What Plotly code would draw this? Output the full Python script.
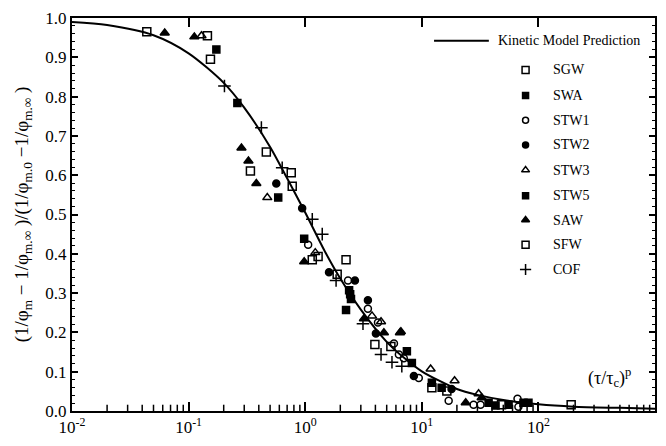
import plotly.graph_objects as go

# Kinetic model prediction curve
curve_x = [0.01, 0.02, 0.05, 0.1, 0.2, 0.3, 0.5, 0.7, 1, 1.5, 2, 3, 5, 7, 10, 20, 30, 50, 100, 200, 500, 1000]
curve_y = [0.99, 0.982, 0.956, 0.91, 0.835, 0.772, 0.672, 0.592, 0.505, 0.402, 0.337, 0.258, 0.176, 0.136, 0.101,
           0.056, 0.041, 0.028, 0.017, 0.011, 0.008, 0.006]

# Experimental series
sgw_x = [0.0438, 0.154, 0.464, 0.774, 1.29, 2.24, 3.96, 12.2, 48.3, 191]
sgw_y = [0.965, 0.895, 0.659, 0.572, 0.393, 0.385, 0.169, 0.059, 0.016, 0.016]

swa_x = [0.173, 0.98, 2.38, 2.43, 7.45, 12.2, 37.4, 74.5]
swa_y = [0.920, 0.438, 0.307, 0.297, 0.152, 0.072, 0.021, 0.021]

stw1_x = [1.06, 2.33, 3.45, 4.21, 5.77, 6.36, 7.01, 9.42, 17.0, 27.8, 31.9, 66.2, 67.4]
stw1_y = [0.423, 0.332, 0.260, 0.225, 0.172, 0.144, 0.134, 0.084, 0.026, 0.016, 0.016, 0.031, 0.011]

stw2_x = [0.565, 0.942, 1.60, 2.67, 3.45, 4.04, 8.55, 18.0]
stw2_y = [0.579, 0.516, 0.353, 0.332, 0.282, 0.197, 0.089, 0.056]

stw3_x = [0.129, 0.473, 1.22, 3.74, 4.47, 11.9, 19.1, 30.7]
stw3_y = [0.955, 0.543, 0.403, 0.242, 0.227, 0.107, 0.077, 0.044]

stw5_x = [0.262, 0.587, 2.47, 2.24, 8.22, 14.8, 42.9, 55.5, 82.2]
stw5_y = [0.784, 0.543, 0.285, 0.257, 0.122, 0.059, 0.014, 0.016, 0.021]

saw_x = [0.0624, 0.112, 0.284, 0.326, 0.381, 0.98, 3.19, 4.73, 6.49, 6.62, 23.8, 32.6]
saw_y = [0.962, 0.952, 0.669, 0.636, 0.579, 0.380, 0.235, 0.199, 0.199, 0.202, 0.021, 0.034]

sfw_x = [0.145, 0.339, 0.759, 1.15, 1.88, 5.43, 16.4]
sfw_y = [0.955, 0.611, 0.606, 0.385, 0.348, 0.164, 0.051]

cof_x = [0.203, 0.421, 0.635, 1.15, 1.40, 1.84, 3.13, 4.47, 5.55, 6.74]
cof_y = [0.827, 0.721, 0.619, 0.488, 0.450, 0.332, 0.222, 0.144, 0.124, 0.114]

series_names = ["SGW", "SWA", "STW1", "STW2", "STW3", "STW5", "SAW", "SFW", "COF"]
series_x = [sgw_x, swa_x, stw1_x, stw2_x, stw3_x, stw5_x, saw_x, sfw_x, cof_x]
series_y = [sgw_y, swa_y, stw1_y, stw2_y, stw3_y, stw5_y, saw_y, sfw_y, cof_y]
symbols = ["square-open", "square", "circle-open", "circle", "triangle-up-open",
           "square", "triangle-up", "square-open", "cross-thin"]
sizes = [8, 7, 7, 7, 8, 7, 8, 8, 9]

xtick_vals = [0.01, 0.1, 1, 10, 100, 1000]
xtick_text = ["10<sup>-2</sup>", "10<sup>-1</sup>", "10<sup>0</sup>", "10<sup>1</sup>",
              "10<sup>2</sup>", "10<sup>3</sup>"]
xminor_vals = [m * d for d in xtick_vals[:-1] for m in range(2, 10)]

FONT = "Liberation Serif"
fig = go.Figure()

fig.add_trace(go.Scatter(x=curve_x, y=curve_y, mode="lines",
                         line=dict(color="black", width=2, shape="spline", smoothing=0.8),
                         showlegend=False, hoverinfo="skip"))

for name, xs, ys, sym, sz in zip(series_names, series_x, series_y, symbols, sizes):
    fig.add_trace(go.Scatter(x=xs, y=ys, mode="markers", name=name, showlegend=False,
                             marker=dict(symbol=sym, size=sz, color="black",
                                         line=dict(color="black", width=1.5))))

# Manual legend
leg_y = [0.868, 0.803, 0.740, 0.677, 0.613, 0.548, 0.486, 0.423, 0.360]
leg_x = 0.778
for name, sym, sz, yy in zip(series_names, symbols, sizes, leg_y):
    fig.add_trace(go.Scatter(x=[leg_x], y=[yy], xaxis="x2", yaxis="y2", mode="markers",
                             showlegend=False, hoverinfo="skip",
                             marker=dict(symbol=sym, size=sz - 1, color="black",
                                         line=dict(color="black", width=1.5))))
    fig.add_annotation(xref="paper", yref="paper", x=0.821, y=yy, text=name, showarrow=False,
                       xanchor="left", yanchor="middle", font=dict(family=FONT, size=14, color="black"))

fig.add_shape(type="line", xref="paper", yref="paper", x0=0.621, x1=0.715, y0=0.942, y1=0.942,
              line=dict(color="black", width=2))
fig.add_annotation(xref="paper", yref="paper", x=0.727, y=0.942, text="Kinetic Model Prediction",
                   showarrow=False, xanchor="left", yanchor="middle",
                   font=dict(family=FONT, size=14, color="black"))

fig.add_annotation(xref="paper", yref="paper", x=0.922, y=0.086, text="(τ/τ<sub>c</sub>)<sup>p</sup>",
                   showarrow=False, xanchor="center", yanchor="middle",
                   font=dict(family=FONT, size=18, color="black"))

# Minor x ticks (log decades 2..9), drawn inside the bottom axis
for v in xminor_vals:
    fig.add_shape(type="line", xref="x", yref="paper", x0=v, x1=v, y0=0, y1=0.016,
                  line=dict(color="black", width=1.5), layer="above")

fig.update_layout(
    width=666, height=446,
    margin=dict(l=72, r=9, t=17, b=30),
    paper_bgcolor="white", plot_bgcolor="white",
    font=dict(family=FONT, size=16, color="black"),
    xaxis=dict(type="log", range=[-2, 3], tickvals=xtick_vals, ticktext=xtick_text,
               showline=True, linecolor="black", linewidth=2, mirror="ticks",
               ticks="inside", ticklen=9, tickwidth=2, tickcolor="black", showgrid=False,
               zeroline=False, tickfont=dict(family=FONT, size=17)),
    yaxis=dict(range=[0, 1], dtick=0.1, tickformat=".1f",
               showline=True, linecolor="black", linewidth=2, mirror="ticks",
               ticks="inside", ticklen=6, tickwidth=1.5, tickcolor="black", showgrid=False,
               zeroline=False, tickfont=dict(family=FONT, size=17),
               title=dict(text="(1/φ<sub>m</sub> − 1/φ<sub>m.∞</sub> )/(1/φ<sub>m.0</sub> −1/φ<sub>m.∞</sub> )",
                          font=dict(family=FONT, size=19), standoff=12),
               minor=dict(dtick=0.02, ticks="inside", ticklen=3, tickwidth=1, tickcolor="black", showgrid=False)),
    xaxis2=dict(overlaying="x", range=[0, 1], visible=False),
    yaxis2=dict(overlaying="y", range=[0, 1], visible=False),
)

fig.write_html("out.html")
